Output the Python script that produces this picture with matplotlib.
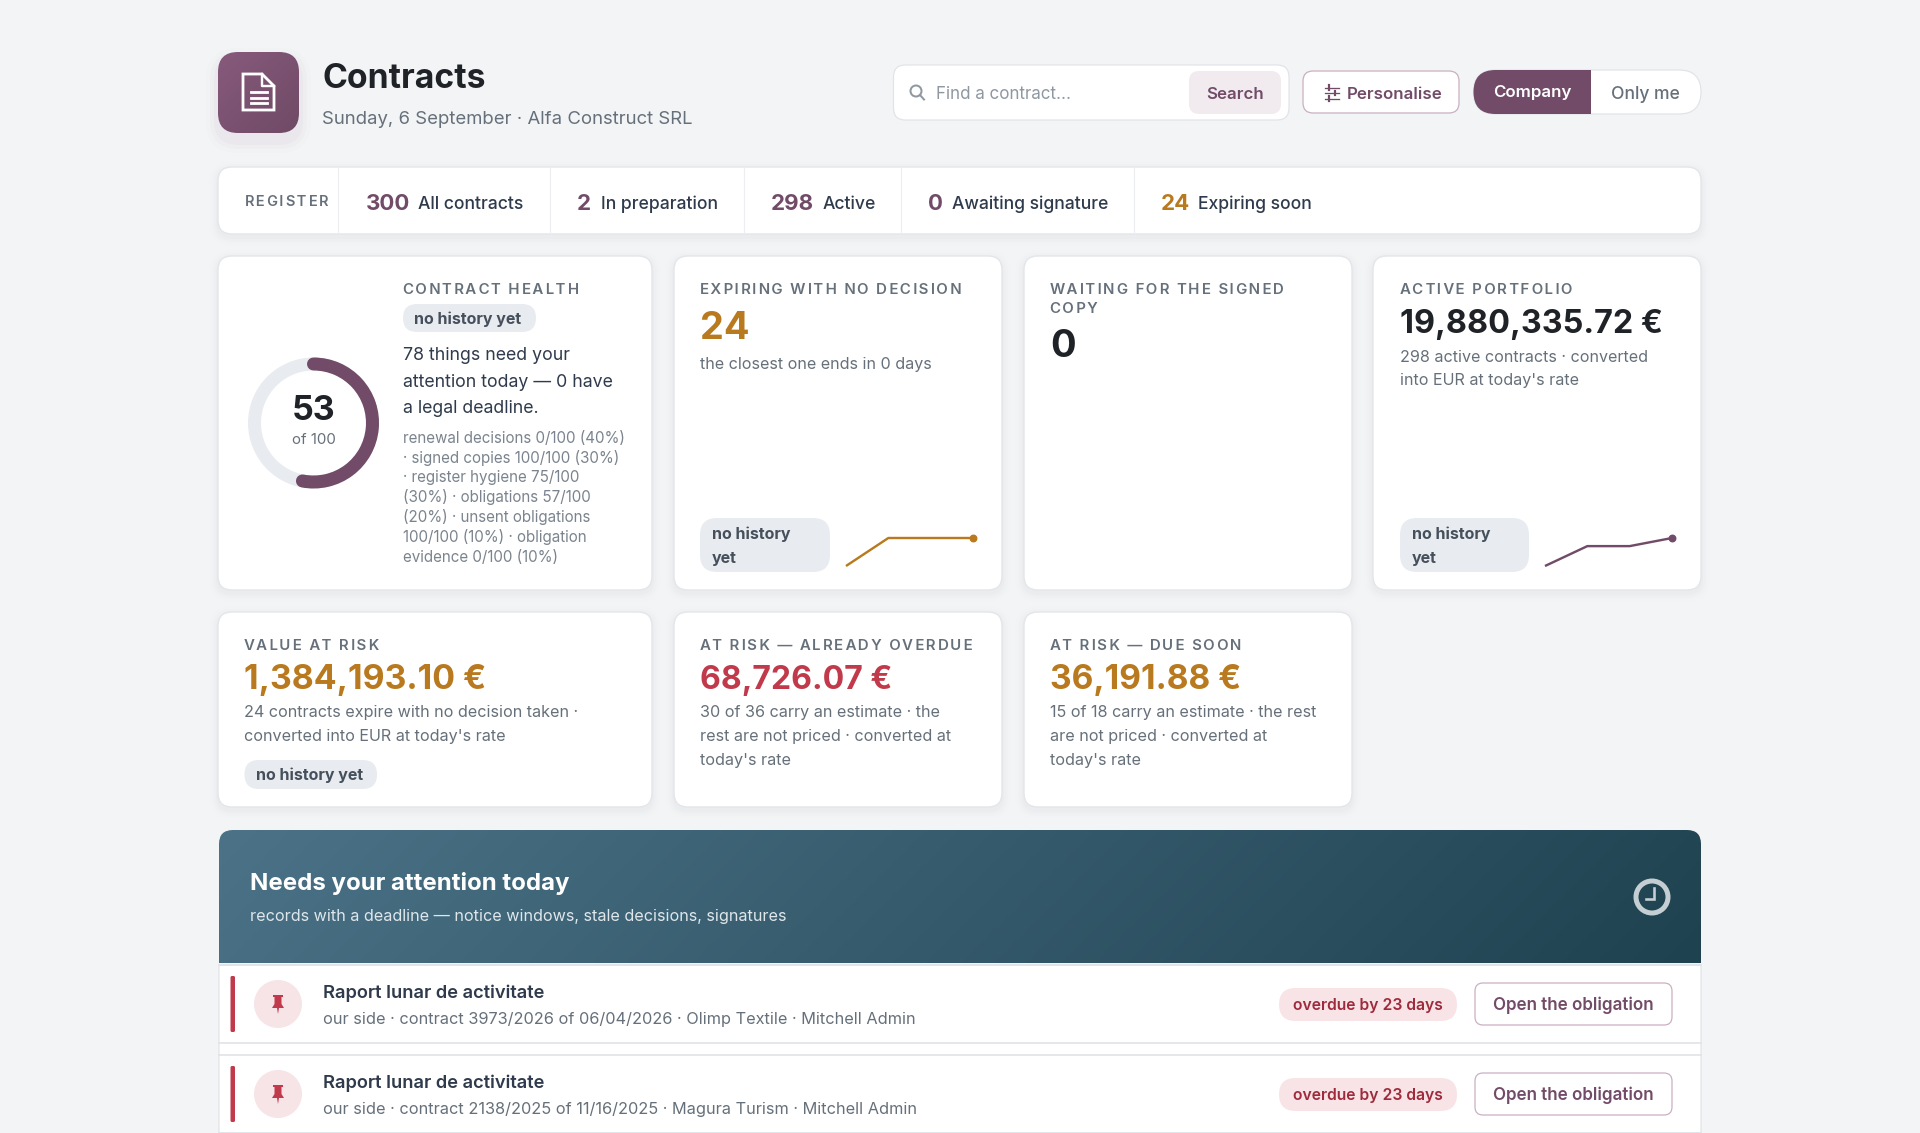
import numpy as np
import matplotlib
matplotlib.use("Agg")
import matplotlib.pyplot as plt
from matplotlib.patches import FancyBboxPatch, Circle, Arc, Polygon, Rectangle

plt.rcParams['font.family'] = ['Inter', 'Noto Sans', 'DejaVu Sans']

# --- data ---
strip_counts = ['300', '2', '298', '0', '24']
strip_labels = ['All contracts', 'In preparation', 'Active', 'Awaiting signature', 'Expiring soon']
health_score = 53
health_lines = ['78 things need your', 'attention today — 0 have', 'a legal deadline.']
health_detail = ['renewal decisions 0/100 (40%)', '· signed copies 100/100 (30%)',
                 '· register hygiene 75/100', '(30%) · obligations 57/100',
                 '(20%) · unsent obligations', '100/100 (10%) · obligation',
                 'evidence 0/100 (10%)']
spark_expiring = [0, 1, 1, 1]
spark_portfolio = [0, 0.71, 0.71, 1]
risk_titles = ['VALUE AT RISK', 'AT RISK — ALREADY OVERDUE', 'AT RISK — DUE SOON']
risk_values = ['1,384,193.10 €', '68,726.07 €', '36,191.88 €']
risk_notes = [['24 contracts expire with no decision taken ·', "converted into EUR at today's rate"],
              ['30 of 36 carry an estimate · the', 'rest are not priced · converted at', "today's rate"],
              ['15 of 18 carry an estimate · the rest', 'are not priced · converted at', "today's rate"]]
row_titles = ['Raport lunar de activitate', 'Raport lunar de activitate']
row_subs = ['our side · contract 3973/2026 of 06/04/2026 · Olimp Textile · Mitchell Admin',
            'our side · contract 2138/2025 of 11/16/2025 · Magura Turism · Mitchell Admin']
row_badges = ['overdue by 23 days', 'overdue by 23 days']

PLUM = '#714b67'
AMBER = '#b97a1f'
RED = '#c03a4b'
INK = '#1f2328'
SLATE = '#2f3b4c'
GREY = '#66707a'
W, H = 1920, 1133

fig = plt.figure(figsize=(W / 100, H / 100), dpi=100, facecolor='#f3f4f6')
ax = fig.add_axes([0, 0, 1, 1])
ax.set_xlim(0, W)
ax.set_ylim(H, 0)
ax.axis('off')


def txt(x, y, s, px, color=INK, weight='normal', ha='left', **kw):
    return ax.text(x, y, s, fontsize=px * 0.72, color=color, fontweight=weight,
                   ha=ha, va='baseline', **kw)


def track(s):
    # letter spacing for the uppercase labels: one hair space is too tight, two too wide
    out = ''
    for i, ch in enumerate(s[:-1]):
        out += ch + ('\u200a\u200a' if i % 2 else '\u200a')
    return out + s[-1]


def box(x0, y0, x1, y1, r, fc='white', ec='none', lw=1.0, z=1, **kw):
    p = FancyBboxPatch((x0, y0), x1 - x0, y1 - y0, boxstyle=f'round,pad=0,rounding_size={r}',
                       fc=fc, ec=ec, lw=lw * 0.72, zorder=z, **kw)
    ax.add_patch(p)
    return p


def card(x0, y0, x1, y1, r=14):
    for grow, a in [(9, 0.005), (6, 0.006), (4, 0.008), (2, 0.010)]:
        box(x0 - grow, y0 - grow + 3, x1 + grow, y1 + grow + 3, r + grow, fc='#1f2937', alpha=a, z=0.5)
    box(x0, y0, x1, y1, r, fc='white', ec='#e3e6ea', lw=1.4)


def pill_two(x0, x1, color_text='#46505c'):
    box(x0, 518, x1, 572, 17, fc='#e8ebef', z=2)
    txt(x0 + 11.5, 539, 'no history', 16, color_text, 'bold', zorder=3)
    txt(x0 + 11.5, 563, 'yet', 16, color_text, 'bold', zorder=3)


def pill_one(x0, x1, y0, y1, base):
    box(x0, y0, x1, y1, (y1 - y0) / 2, fc='#e8ebef', z=2)
    txt(x0 + 11.5, base, 'no history yet', 16, '#46505c', 'bold', zorder=3)


def sparkline(values, x0, x1, color):
    # 0 sits at y=566 and 1 at y=538 in page pixels
    sub = fig.add_axes([x0 / W, 1 - 566 / H, (x1 - x0) / W, 28 / H])
    sub.patch.set_alpha(0)
    sub.axis('off')
    sub.set_xlim(0, len(values) - 1)
    sub.set_ylim(0, 1)
    sub.plot(range(len(values)), values, color=color, lw=2.4 * 0.72, clip_on=False, solid_capstyle='butt')
    sub.plot(len(values) - 1, values[-1], 'o', color=color, ms=6.5 * 0.72, clip_on=False)


# --- header ---
grad = np.linspace(0, 1, 256)[:, None] * np.ones((256, 256)) * 0.5 + np.linspace(0, 1, 256)[None, :] * 0.5
cm_icon = matplotlib.colors.LinearSegmentedColormap.from_list('icon', ['#875a7c', '#6f4a65'])
for grow, a in [(12, 0.012), (8, 0.018), (4, 0.03)]:
    box(218 - grow, 52 - grow + 8, 299 + grow, 133 + grow + 8, 20 + grow, fc=PLUM, alpha=a, z=0.5)
icon_clip = box(218, 52, 299, 133, 20, fc='none')
im = ax.imshow(grad, extent=(218, 299, 133, 52), cmap=cm_icon, aspect='auto', zorder=1)
im.set_clip_path(icon_clip)
doc = [(243, 74), (262, 74), (274, 86), (274, 110), (243, 110)]
ax.add_patch(Polygon(doc, closed=True, fc='none', ec='white', lw=2.8 * 0.72, zorder=2))
ax.plot([262, 262, 274], [74, 86, 86], color='white', lw=2.4 * 0.72, zorder=2)
for ly in [92, 97.5, 103]:
    ax.plot([251, 267], [ly, ly], color='white', lw=2.8 * 0.72, zorder=2)

txt(322, 88, 'Contracts', 33.7, INK, 'bold')
txt(322, 124, 'Sunday, 6 September · Alfa Construct SRL', 18.55, GREY)

box(893.5, 65, 1289, 120, 12, fc='white', ec='#e0e3e8', lw=1.2)
ax.add_patch(Circle((916, 91), 5.5, fc='none', ec='#8f98a1', lw=2 * 0.72, zorder=2))
ax.plot([920, 924], [95, 99.5], color='#8f98a1', lw=2 * 0.72, zorder=2)
txt(936, 99, 'Find a contract...', 17, '#8f98a1', zorder=2)
box(1189, 71, 1281, 114, 10, fc='#f1ebf0', z=2)
txt(1235, 99, 'Search', 16.9, PLUM, 'semibold', ha='center', zorder=3)

box(1303, 71, 1459, 113, 10, fc='white', ec='#c9adc0', lw=1.2)
for ly, kx in [(87.5, 1329), (93, 1335), (98.5, 1329)]:
    ax.plot([1325, 1339], [ly, ly], color=PLUM, lw=1.3 * 0.72, zorder=2)
    ax.plot([kx, kx], [ly - 2.2, ly + 2.2], color=PLUM, lw=2.2 * 0.72, zorder=2)
txt(1347, 99, 'Personalise', 16.9, PLUM, 'semibold', zorder=2)

box(1473.5, 70, 1701, 114, 22, fc='white', ec='#e0e3e8', lw=1.2)
tog = box(1473.5, 70, 1701, 114, 22, fc=PLUM, z=1.5)
tog.set_clip_path(Rectangle((1473, 69), 118, 46, transform=ax.transData))
txt(1532, 97.5, 'Company', 16.9, 'white', 'semibold', ha='center', zorder=2)
txt(1645, 99, 'Only me', 17.5, GREY, 'medium', ha='center', zorder=2)

# --- register strip ---
card(218, 167, 1701, 234)
txt(245, 206, track('REGISTER'), 14.6, GREY, 'semibold', zorder=2)
for dx in [338, 550, 743.5, 901, 1134]:
    ax.plot([dx, dx], [168, 233], color='#eceef1', lw=1.2 * 0.72, zorder=2)
strip_num_x = [366, 577, 771, 928, 1161]
strip_lab_x = [418.5, 601, 823, 952, 1198]
for i in range(5):
    c = AMBER if i == 4 else PLUM
    txt(strip_num_x[i], 210, strip_counts[i], 22.3, c, 'bold', zorder=2)
    txt(strip_lab_x[i], 209, strip_labels[i], 17.55, SLATE, 'medium', zorder=2)

# --- first row of cards ---
card(218, 256, 652, 590)
ax.add_patch(Circle((313.5, 423), 59, fc='none', ec='#e8ebef', lw=13 * 0.72, zorder=2))
ax.add_patch(Arc((313.5, 423), 118, 118, theta1=-90, theta2=-90 + 360 * health_score / 100,
                 ec=PLUM, lw=13 * 0.72, zorder=3, capstyle='round'))
txt(313.5, 420, str(health_score), 34, INK, 'bold', ha='center', zorder=3)
txt(313.5, 444, 'of 100', 15, GREY, ha='center', zorder=3)
txt(403, 294, track('CONTRACT HEALTH'), 15, GREY, 'semibold', zorder=2)
pill_one(403, 536, 304, 332, 324)
for yy, line in zip([360, 387, 413], health_lines):
    txt(403, yy, line, 17.7, SLATE, zorder=2)
for yy, line in zip([443, 463, 482, 502, 522, 542, 562], health_detail):
    txt(403, yy, line, 15.15, '#7b848e', zorder=2)

card(674, 256, 1002, 590)
txt(700, 294, track('EXPIRING WITH NO DECISION'), 15, GREY, 'semibold', zorder=2)
txt(700, 339, '24', 38, AMBER, 'bold', zorder=2)
txt(700, 369, 'the closest one ends in 0 days', 16.1, GREY, zorder=2)
pill_two(700, 830)
sparkline(spark_expiring, 846, 973, AMBER)

card(1024, 256, 1352, 590)
txt(1050, 294, track('WAITING FOR THE SIGNED'), 15, GREY, 'semibold', zorder=2)
txt(1050, 313, track('COPY'), 15, GREY, 'semibold', zorder=2)
txt(1050, 357, '0', 38, INK, 'bold', zorder=2)

card(1373, 256, 1701, 590)
txt(1400, 294, track('ACTIVE PORTFOLIO'), 15, GREY, 'semibold', zorder=2)
txt(1400, 333, '19,880,335.72 €', 32.4, INK, 'bold', zorder=2)
txt(1400, 362, '298 active contracts · converted', 16.1, GREY, zorder=2)
txt(1400, 385, "into EUR at today's rate", 16.1, GREY, zorder=2)
pill_two(1400, 1529)
sparkline(spark_portfolio, 1545, 1672, PLUM)

# --- second row of cards ---
risk_x = [(218, 652), (674, 1002), (1024, 1352)]
risk_colors = [AMBER, RED, AMBER]
risk_sizes = [33.9, 32, 33.6]
for i in range(3):
    x0, x1 = risk_x[i]
    card(x0, 612, x1, 807)
    tx = x0 + 26
    txt(tx, 650.5, track(risk_titles[i]), 15, GREY, 'semibold', zorder=2)
    txt(tx, 688.5, risk_values[i], risk_sizes[i], risk_colors[i], 'bold', zorder=2)
    for yy, line in zip([717, 741, 765], risk_notes[i]):
        txt(tx, yy, line, 16.15, GREY, zorder=2)
pill_one(244.5, 377, 760, 789, 780)

# --- attention banner ---
box(219, 965, 1701, 1133, 1, fc='white', ec='#e0e3e8', lw=1.2, z=0.8)
banner_clip = box(219, 830, 1701, 1000, 14, fc='none')
gx, gy = np.meshgrid(np.linspace(0, 1, 400), np.linspace(0, 1, 100))
ramp = (gx * 1482 + gy * 133) / (1482 + 133)
cm_ban = matplotlib.colors.LinearSegmentedColormap.from_list('ban', ['#4b7287', '#1f4250'])
im2 = ax.imshow(ramp, extent=(219, 1701, 963, 830), cmap=cm_ban, aspect='auto', zorder=1)
im2.set_clip_path(banner_clip)
ax.set_xlim(0, W)
ax.set_ylim(H, 0)
txt(250, 890, 'Needs your attention today', 24, 'white', 'bold', zorder=2)
txt(250, 921, 'records with a deadline — notice windows, stale decisions, signatures', 16.18,
    '#dfe7eb', zorder=2)
ax.add_patch(Circle((1652, 897), 16, fc='none', ec='#c5cfd3', lw=5 * 0.72, zorder=2))
ax.plot([1646, 1654, 1654], [899, 899, 888], color='#c5cfd3', lw=2.6 * 0.72, zorder=2,
        solid_joinstyle='miter')

# --- rows ---
row_y = [965, 1055]
for i, y in enumerate(row_y):
    ax.plot([219, 1701], [y + 78, y + 78], color='#dfe2e6', lw=1.6 * 0.72, zorder=1)
    ax.plot([219, 1701], [y, y], color='#dfe2e6', lw=1.6 * 0.72, zorder=1)
    box(230.5, y + 11, 235, y + 67, 1.5, fc=RED, z=2)
    cy = y + 39
    ax.add_patch(Circle((278, cy), 24, fc='#f7e4e7', zorder=2))
    pin = [(273, cy - 9), (283, cy - 9), (283, cy - 7), (281.5, cy - 7), (281.5, cy), (284, cy + 4),
           (279, cy + 4), (278, cy + 10), (277, cy + 4), (272, cy + 4), (274.5, cy), (274.5, cy - 7), (273, cy - 7)]
    ax.add_patch(Polygon(pin, closed=True, fc=RED, ec='none', zorder=3))
    txt(323, y + 33, row_titles[i], 18.3, SLATE, 'semibold', zorder=2)
    txt(323, y + 59, row_subs[i], 16.33, GREY, zorder=2)
    box(1279, y + 23, 1457, y + 56, 16.5, fc='#f8e4e7', z=2)
    txt(1368, y + 45, row_badges[i], 15.7, '#9e2b3c', 'semibold', ha='center', zorder=3)
    box(1475, y + 18, 1672, y + 60, 8, fc='white', ec='#c9adc0', lw=1.2, z=2)
    txt(1573, y + 45, 'Open the obligation', 17, PLUM, 'semibold', ha='center', zorder=3)

fig.savefig('out.png', dpi=100, facecolor=fig.get_facecolor())
